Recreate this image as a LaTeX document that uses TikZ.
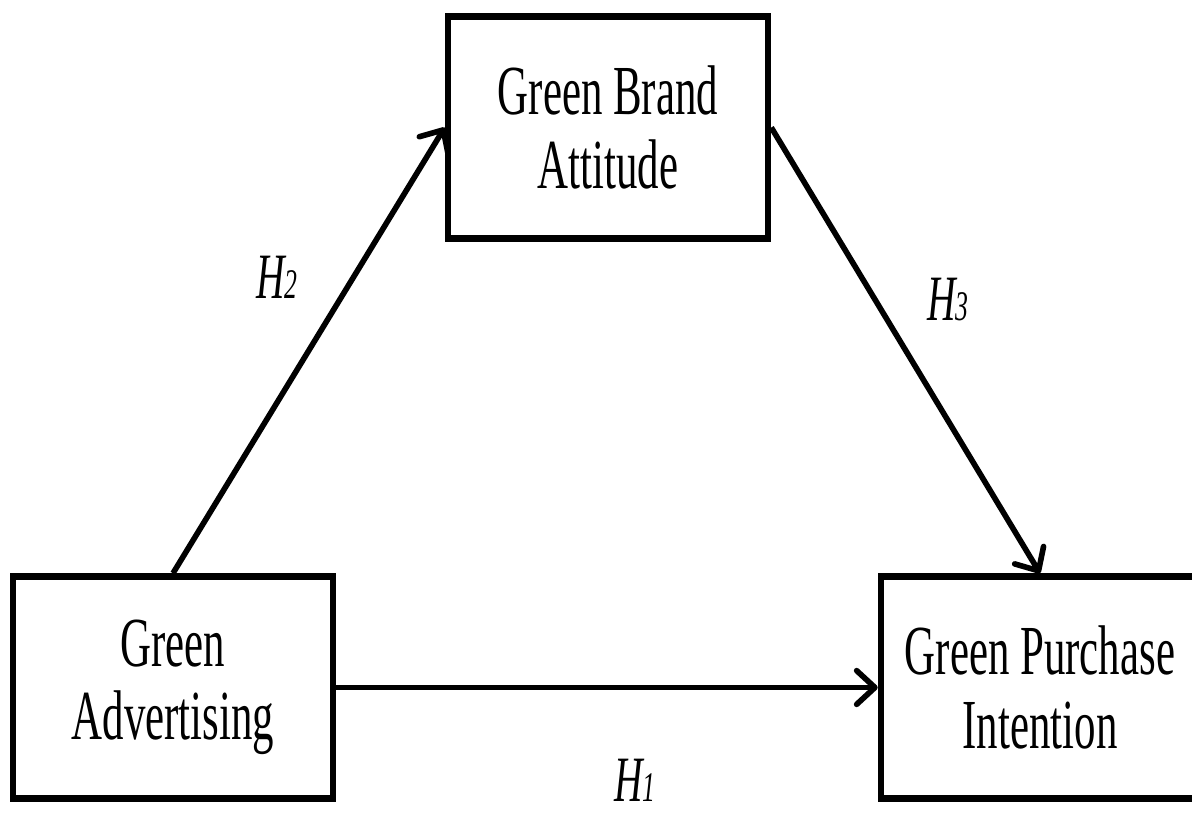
\documentclass[tikz,border=0pt]{standalone}
\usepackage{fontspec}
\setmainfont{Liberation Serif}[FakeStretch=0.61]
\usetikzlibrary{arrows.meta, positioning}

\newcommand{\hyp}[1]{{\fontsize{46}{46}\selectfont\itshape H}{\fontsize{30}{30}\selectfont\itshape #1}}

\begin{document}
\begin{tikzpicture}[x=0.025cm, y=-0.025cm,
 box/.style={rectangle, draw, line width=4.6pt, align=center,
   font=\fontsize{50}{52}\selectfont, minimum height=5.55cm},
 link/.style={line width=4pt, -{Straight Barb[length=13pt,width=24pt,round]}}]
 \useasboundingbox (0,0) rectangle (1192,814);
 \node[box, minimum width=8cm](GBA) at (608,127.5) {Green Brand\\Attitude};
 \node[box, minimum width=8cm](GA) at (173,687.5) {Green\\Advertising};
 \node[box, minimum width=7.95cm](GPI) at (1040,687.5) {Green Purchase\\Intention};

 \foreach \s/\t in {GA.north/GBA.west, GBA.east/GPI.north, GA.east/GPI.west}
    \draw[link] (\s) -- (\t);

 \foreach \n/\x/\y/\d in {hone/635/780/1, htwo/277/277/2, hthree/948/300/3}
    \node[inner sep=0pt](\n) at (\x,\y) {\hyp{\d}};
\end{tikzpicture}
\end{document}
